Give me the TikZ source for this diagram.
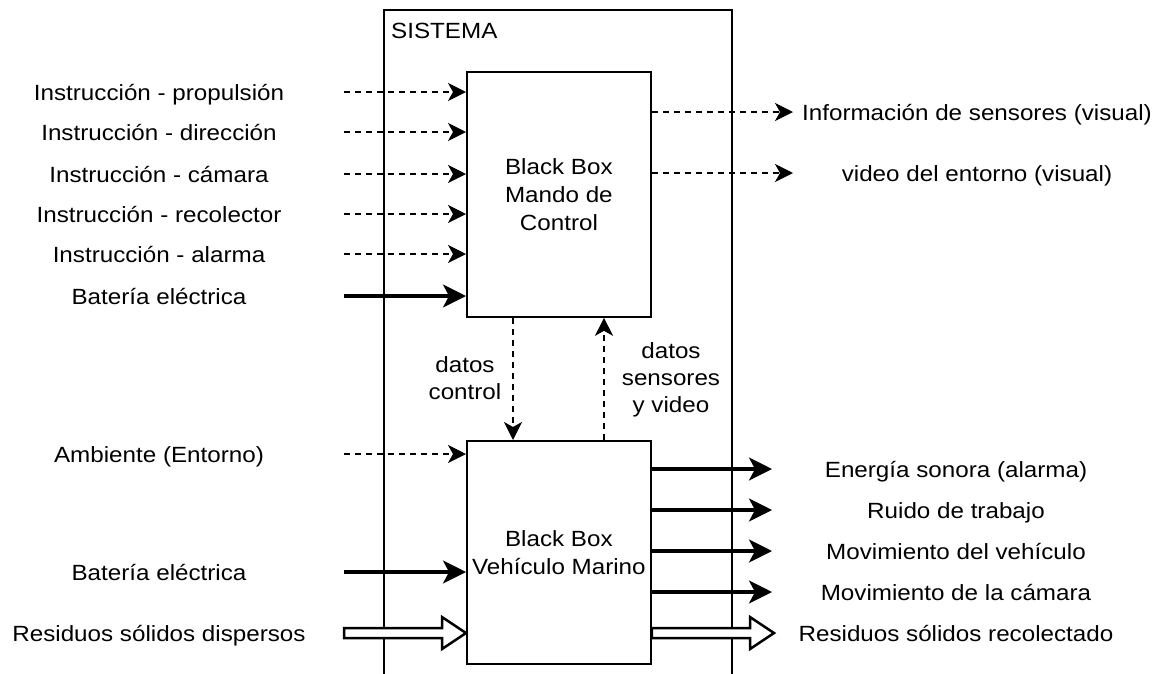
\documentclass[tikz,border=0pt]{standalone}
\usepackage{fontspec}
\setmainfont[FakeStretch=1.1]{Liberation Sans}
\usetikzlibrary{arrows.meta,calc}

\tikzset{
  lbl/.style={anchor=base, inner sep=0pt, font=\fontsize{22}{27}\selectfont},
  blackbox/.style={draw, line width=1.8pt, anchor=north west, align=center,
    minimum width=184pt, font=\fontsize{22}{28}\selectfont, inner sep=0pt},
  flowdash/.style={line width=1.8pt, dash pattern=on 6pt off 5pt,
    -{Stealth[length=18pt, width=18pt, inset=5pt]}},
  flowsolid/.style={line width=3.2pt,
    -{Stealth[length=23pt, width=23pt, inset=6pt]}},
  hollow/.style={draw, line width=2.5pt, fill=white, line join=miter},
}

\begin{document}
\begin{tikzpicture}[x=1pt, y=-1pt]
\useasboundingbox (0,0) rectangle (1163,673);
\fill[white] (0,0) rectangle (1163,673);

% system boundary (runs off the lower edge)
\draw[line width=1.8pt] (384,680) -- (384,10) -- (732,10) -- (732,680);
\node[lbl, anchor=base west] (sis) at (391,38) {SISTEMA};

% the two black boxes
\node[blackbox, minimum height=245pt] (mando) at (466,71)
  {Black Box\\Mando de\\Control};
\node[blackbox, minimum height=223pt] (veh) at (466,440)
  {Black Box\\Vehículo Marino};

% inputs of the control unit
\foreach \y/\t [count=\i] in {92/Instrucción - propulsión,
    132/Instrucción - dirección, 174/Instrucción - cámara,
    214/Instrucción - recolector, 254/Instrucción - alarma}{
  \node[lbl] (in\i) at (159,\y+8) {\t};
  \coordinate (s\i) at (344,\y);
  \draw[flowdash] (s\i) -- (s\i -| mando.west);
}
\node[lbl] (bat1) at (159,304) {Batería eléctrica};
\coordinate (sb1) at (344,296);
\draw[flowsolid] (sb1) -- (sb1 -| mando.west);

% outputs of the control unit
\coordinate (o1) at (793,112);
\coordinate (o2) at (793,173);
\draw[flowdash] (o1 -| mando.east) -- (o1);
\draw[flowdash] (o2 -| mando.east) -- (o2);
\node[lbl] (info) at (977,120) {Información de sensores (visual)};
\node[lbl] (video) at (977,181) {video del entorno (visual)};

% data exchange between the boxes
\coordinate (dc) at (513,0);
\coordinate (ds) at (604,0);
\draw[flowdash] (dc |- mando.south) -- (dc |- veh.north);
\draw[flowdash] (ds |- veh.north) -- (ds |- mando.south);
\node[lbl, align=center, anchor=center] (ldc) at (465,378) {datos\\control};
\node[lbl, align=center, anchor=center] (lds) at (671,380) {datos\\sensores\\y video};

% inputs of the vehicle
\node[lbl] (amb) at (159,462) {Ambiente (Entorno)};
\coordinate (sa) at (344,454);
\draw[flowdash] (sa) -- (sa -| veh.west);
\node[lbl] (bat2) at (159,580) {Batería eléctrica};
\coordinate (sb2) at (344,572);
\draw[flowsolid] (sb2) -- (sb2 -| veh.west);
\node[lbl] (resin) at (159,641) {Residuos sólidos dispersos};
\coordinate (sr) at (344,633);
\coordinate (er) at (sr -| veh.west);
\draw[hollow] ($(sr)+(0,-5)$) -- ($(er)+(-24,-5)$) -- ($(er)+(-24,-16)$)
  -- (er) -- ($(er)+(-24,16)$) -- ($(er)+(-24,5)$) -- ($(sr)+(0,5)$) -- cycle;

% outputs of the vehicle
\foreach \y/\t [count=\i] in {469/Energía sonora (alarma), 510/Ruido de trabajo,
    551/Movimiento del vehículo, 592/Movimiento de la cámara}{
  \coordinate (e\i) at (772,\y);
  \draw[flowsolid] (e\i -| veh.east) -- (e\i);
  \node[lbl] (out\i) at (956,\y+8) {\t};
}
\coordinate (rt) at (774,633);
\coordinate (rs) at (rt -| veh.east);
\draw[hollow] ($(rs)+(0,-5)$) -- ($(rt)+(-24,-5)$) -- ($(rt)+(-24,-16)$)
  -- (rt) -- ($(rt)+(-24,16)$) -- ($(rt)+(-24,5)$) -- ($(rs)+(0,5)$) -- cycle;
\node[lbl] (resout) at (956,641) {Residuos sólidos recolectado};
\end{tikzpicture}
\end{document}
